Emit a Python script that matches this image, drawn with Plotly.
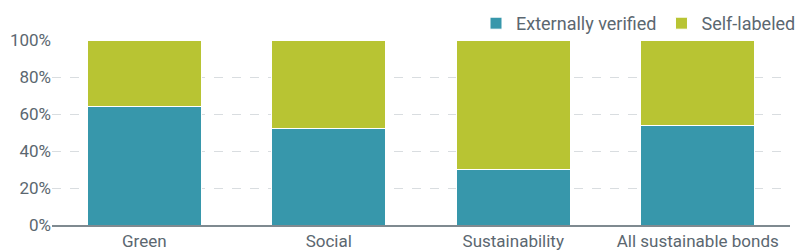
import plotly.graph_objects as go

categories = ["Green", "Social", "Sustainability", "All sustainable bonds"]
externally_verified = [64, 52, 30, 54]
self_labeled = [36, 48, 70, 46]
tick_vals = [0, 20, 40, 60, 80, 100]
tick_text = ["0%", "20%", "40%", "60%", "80%", "100%"]

teal = "#3797ab"
lime = "#b8c433"
txt = "#5b6770"

fig = go.Figure()
fig.add_bar(x=categories, y=externally_verified, name="Externally verified",
            marker=dict(color=teal, line=dict(color="white", width=1)))
fig.add_bar(x=categories, y=self_labeled, name="Self-labeled",
            marker=dict(color=lime, line=dict(color="white", width=1)))

fig.update_layout(
    barmode="stack",
    bargap=0.38,
    width=801, height=251,
    margin=dict(l=52, r=11, t=40, b=26, autoexpand=False),
    paper_bgcolor="white", plot_bgcolor="white",
    font=dict(family="Roboto", size=17, color=txt),
    showlegend=True,
    legend=dict(orientation="h", x=1, xanchor="right", xref="container",
                y=1 - 5 / 251, yanchor="top", yref="container",
                font=dict(size=18, color=txt), itemwidth=30,
                traceorder="normal", bgcolor="rgba(0,0,0,0)"),
    xaxis=dict(showgrid=False, showline=True, linecolor="#7f8a90", linewidth=2,
               ticks="", automargin=False, tickfont=dict(size=17, color=txt)),
    yaxis=dict(range=[0, 100], tickvals=tick_vals, ticktext=tick_text,
               showgrid=True, gridcolor="#d9dde0", griddash="dash", gridwidth=1,
               zeroline=False, showline=False, ticks="", automargin=False,
               tickfont=dict(size=17, color=txt)),
)

fig.write_html("out.html")
